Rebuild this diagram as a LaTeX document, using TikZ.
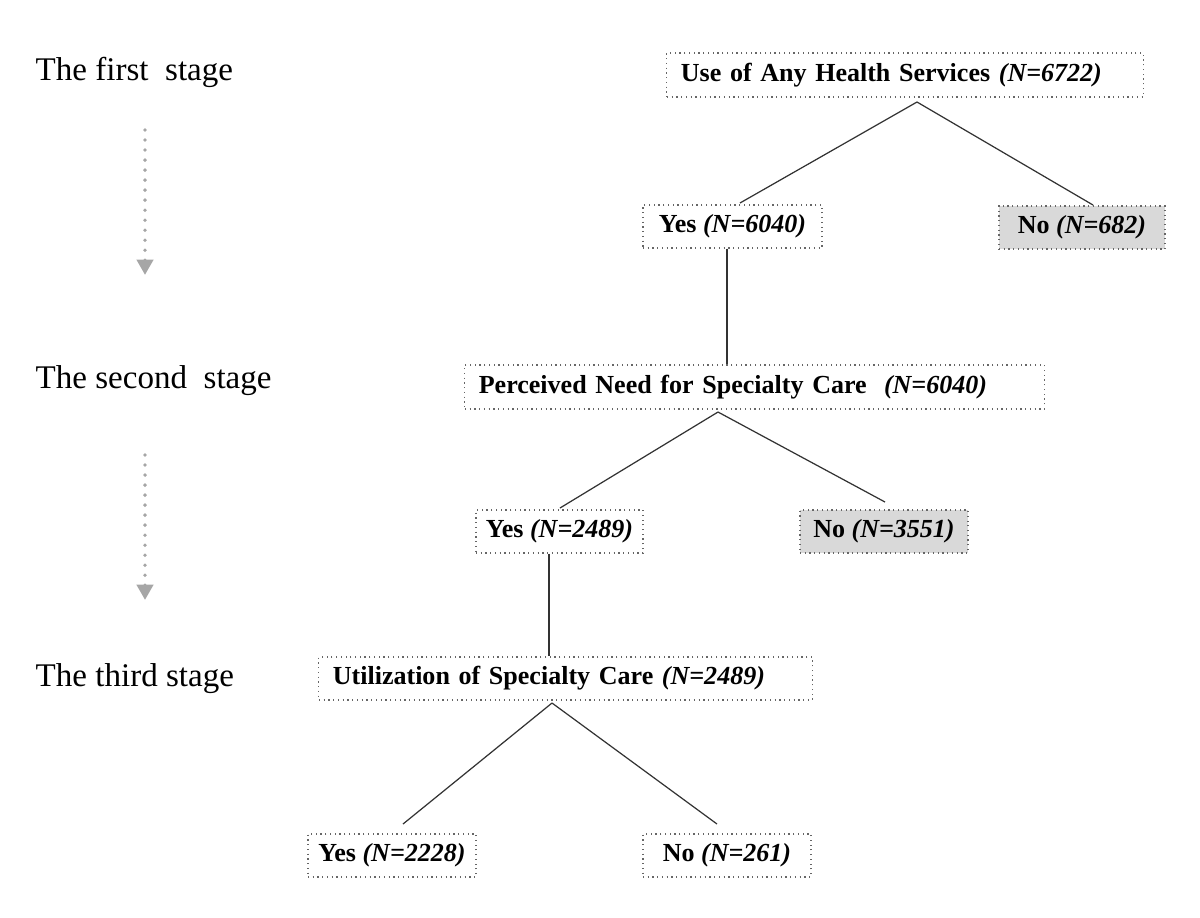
\documentclass[tikz,border=0pt]{standalone}
\usepackage{fontspec}
\setmainfont{Liberation Serif}
\usetikzlibrary{arrows.meta}
\begin{document}
\begin{tikzpicture}[x=0.01cm,y=-0.01cm,
  box/.style={draw=black!60, densely dotted, line width=0.35pt, inner ysep=0pt, inner xsep=0.14cm, anchor=center, align=left, font=\fontsize{7.4}{9}\selectfont\bfseries},
  smallbox/.style={draw=black!60, densely dotted, line width=0.35pt, inner sep=0pt, anchor=center, minimum height=0.43cm, font=\fontsize{7.4}{9}\selectfont\bfseries},
  graybox/.style={smallbox, fill=black!15},
  link/.style={draw=black!80, line width=0.35pt},
  stagelabel/.style={anchor=base west, inner sep=0pt, font=\fontsize{9.4}{11}\selectfont},
  stagearrow/.style={draw=black!35, line width=1.1pt, line cap=round, dash pattern=on 0pt off 2.85pt, -{Triangle[width=4.6pt,length=4.4pt,color=black!35]}}
]
\useasboundingbox (0,0) rectangle (1200,917);

% stage labels
\node[stagelabel] (s1) at (35,80) {The first\ \ stage};
\node[stagelabel] (s2) at (35,388) {The second\ \ stage};
\node[stagelabel] (s3) at (35,686) {The third stage};

% stage arrows
\coordinate (a1s) at (145,130);
\coordinate (a1e) at (145,275);
\coordinate (a2s) at (145,455);
\coordinate (a2e) at (145,600);
\draw[stagearrow] (a1s) -- (a1e);
\draw[stagearrow] (a2s) -- (a2e);

% boxes
\node[box, minimum width=4.76cm, minimum height=0.44cm, text width=4.48cm] (top) at (905,75) {Use of Any Health Services \textit{(N=6722)}};
\node[smallbox, minimum width=1.79cm] (yes1) at (732.5,226.5) {Yes \textit{(N=6040)}};
\node[graybox, minimum width=1.66cm] (no1) at (1082,227.5) {No \textit{(N=682)}};
\node[box, minimum width=5.79cm, minimum height=0.44cm, text width=5.51cm] (need) at (754.5,387) {Perceived Need for Specialty Care\ \ \textit{(N=6040)}};
\node[smallbox, minimum width=1.67cm] (yes2) at (559.5,531.5) {Yes \textit{(N=2489)}};
\node[graybox, minimum width=1.68cm] (no2) at (884,531.5) {No \textit{(N=3551)}};
\node[box, minimum width=4.93cm, minimum height=0.43cm, text width=4.65cm] (util) at (565.5,678.5) {Utilization of Specialty Care \textit{(N=2489)}};
\node[smallbox, minimum width=1.68cm] (yes3) at (392,855.5) {Yes \textit{(N=2228)}};
\node[smallbox, minimum width=1.68cm] (no3) at (727,855.5) {No \textit{(N=261)}};

% connector end points
\coordinate (t1) at (917,102);
\coordinate (e1l) at (740,203);
\coordinate (e1r) at (1093,205);
\coordinate (t2) at (718,412);
\coordinate (e2l) at (560,508);
\coordinate (e2r) at (885,502);
\coordinate (t3) at (552,703);
\coordinate (e3l) at (403,824);
\coordinate (e3r) at (717,824);

\draw[link] (t1) -- (e1l);
\draw[link] (t1) -- (e1r);
\draw[link] ([xshift=-0.055cm]yes1.south) -- ([xshift=-0.055cm]yes1.south |- need.north);
\draw[link] (t2) -- (e2l);
\draw[link] (t2) -- (e2r);
\draw[link] ([xshift=-0.105cm]yes2.south) -- ([xshift=-0.105cm]yes2.south |- util.north);
\draw[link] (t3) -- (e3l);
\draw[link] (t3) -- (e3r);
\end{tikzpicture}
\end{document}
